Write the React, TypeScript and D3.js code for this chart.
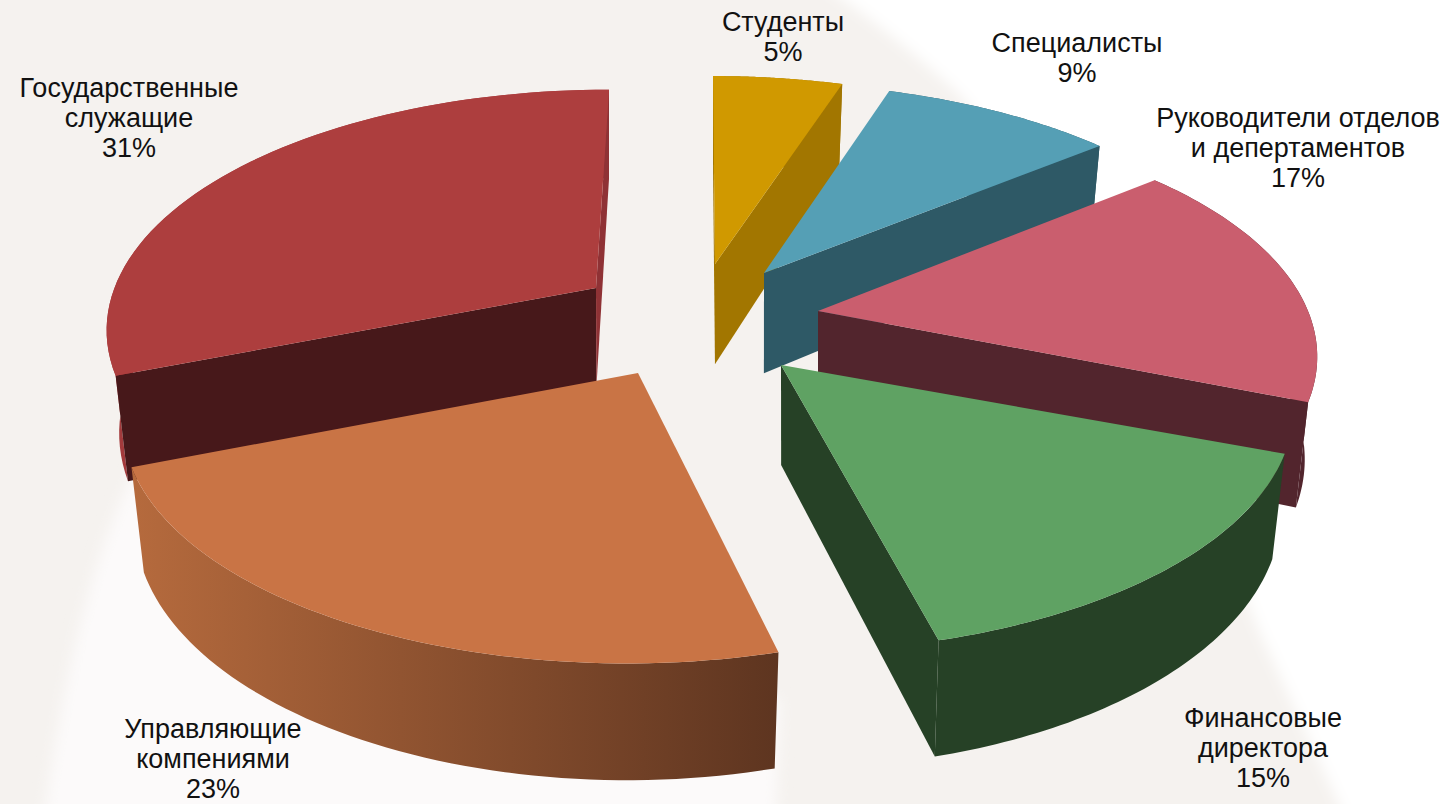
import React from "react";
import * as d3 from "d3";

// Chart values
const categories = [
  "Студенты",
  "Специалисты",
  "Руководители отделов и депертаментов",
  "Финансовые директора",
  "Управляющие компениями",
  "Государственные служащие",
];
const shares = [5, 9, 17, 15, 23, 31];
const labelLines = [
  ["Студенты"],
  ["Специалисты"],
  ["Руководители отделов", "и депертаментов"],
  ["Финансовые", "директора"],
  ["Управляющие", "компениями"],
  ["Государственные", "служащие"],
];

// Colours per slice
const topColors = ["#d09900", "#559fb5", "#ca5e6e", "#5fa263", "#c97445", "#ad3e3e"];
const cutColors = ["#a27600", "#2e5966", "#52252d", "#264126", "#5e3520", "#47181a"];
const endCutColors = ["#a27600", "#2e5966", "#52252d", "#264126", "#5e3520", "#8f3235"];
const rimColors = ["#a27600", "#2e5966", "#52252d", "#264126", "url(#rim-gradient)", "#a33a3c"];

// Layout per slice: arc centre, tip of the wedge, radius
const arcCenters = [[713, 271], [760, 278], [818, 311], [786, 361], [627, 375], [609, 284]];
const wedgeTips = [[715, 264], [764, 273], [818, 311], [781, 365], [638, 373], [596, 288]];
const radii = [495, 495, 490, 498, 495, 493];
const labelCenters = [783, 1077, 1298, 1263, 213, 129];
const labelBaselines = [31, 52, 127, 727, 738, 97];
const lineGap = 30;
// back-to-front paint order
const paintOrder = [0, 1, 2, 3, 5, 4];

const WIDTH = 1455;
const HEIGHT = 804;
const CAMERA = 2560; // perspective distance
const TILT = 0.47;
const DEPTH = 100;
const BOTTOM_SHRINK = 0.975;

type Pt = [number, number];

function signedArea(p: Pt[]) {
  return d3.sum(p, (a, i) => {
    const b = p[(i + 1) % p.length];
    return a[0] * b[1] - b[0] * a[1];
  });
}

export default function App() {
  const arcs = d3.pie<number>().sort(null).value((d) => d)(shares);
  const line = d3.line();

  const slices = arcs.map((a, i) => {
    const [cx, cy] = arcCenters[i];
    const r = radii[i];
    const rim = (angle: number, bottom: boolean): Pt => {
      const gx = r * Math.sin(angle);
      const gy = r * Math.cos(angle);
      const s = CAMERA / (CAMERA + gy);
      const f = bottom ? BOTTOM_SHRINK : 1;
      return [cx + f * s * gx, cy - f * s * gy * TILT + (bottom ? DEPTH * s : 0)];
    };
    const sweep = d3.range(0, 61).map((t) => a.startAngle + ((a.endAngle - a.startAngle) * t) / 60);
    const topArc = sweep.map((t) => rim(t, false));
    const bottomArc = sweep.map((t) => rim(t, true));
    const tip = wedgeTips[i] as Pt;
    const tipBottom: Pt = [
      cx + BOTTOM_SHRINK * (tip[0] - cx),
      cy + BOTTOM_SHRINK * (tip[1] - cy) + DEPTH,
    ];
    const startWall: Pt[] = [tip, topArc[0], bottomArc[0], tipBottom];
    const endWall: Pt[] = [tip, topArc[60], bottomArc[60], tipBottom];
    return {
      i,
      top: [tip, ...topArc] as Pt[],
      rimWall: [...topArc, ...bottomArc.slice().reverse()] as Pt[],
      startWall,
      endWall,
      showStart: signedArea(startWall) < 0,
      showEnd: signedArea(endWall) > 0,
    };
  });

  return (
    <svg
      width={WIDTH}
      height={HEIGHT}
      style={{ position: "absolute", left: 0, top: 0, display: "block" }}
      fontFamily="'Liberation Sans', Arial, sans-serif"
    >
      <defs>
        <linearGradient id="rim-gradient" gradientUnits="userSpaceOnUse" x1="135" x2="777" y1="0" y2="0">
          <stop offset="0%" stopColor="#b56a3d" />
          <stop offset="100%" stopColor="#5e3520" />
        </linearGradient>
        <filter id="soft" x="-10%" y="-10%" width="120%" height="120%">
          <feGaussianBlur stdDeviation="7" />
        </filter>
      </defs>

      {/* Background */}
      <rect width={WIDTH} height={HEIGHT} fill="#f5f2ef" />
      <path
        d="M815,-20 L1500,-20 L1500,850 L1360,850 L1260,633 Q1130,300 960,95 Q890,30 815,-20 Z"
        fill="#ffffff"
        filter="url(#soft)"
      />
      <path d="M135,470 Q70,600 40,850 L775,850 L780,700 Z" fill="#fcfafa" filter="url(#soft)" />

      {paintOrder.map((idx) => {
        const s = slices[idx];
        return (
          <g key={categories[idx]}>
            <path d={line(s.rimWall)! + "Z"} fill={rimColors[idx]} />
            {s.showStart && <path d={line(s.startWall)! + "Z"} fill={cutColors[idx]} />}
            {s.showEnd && <path d={line(s.endWall)! + "Z"} fill={endCutColors[idx]} />}
            <path d={line(s.top)! + "Z"} fill={topColors[idx]} />
          </g>
        );
      })}

      {labelLines.map((lines, i) => (
        <text key={categories[i]} textAnchor="middle" fontSize={27} fill="#111111">
          {[...lines, `${shares[i]}%`].map((t, j) => (
            <tspan key={j} x={labelCenters[i]} y={labelBaselines[i] + j * lineGap}>
              {t}
            </tspan>
          ))}
        </text>
      ))}
    </svg>
  );
}
